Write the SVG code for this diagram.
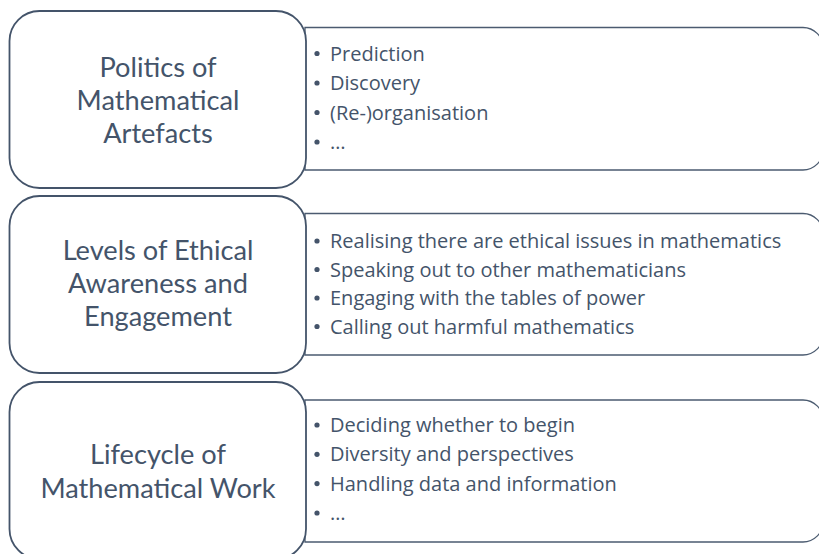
<svg xmlns="http://www.w3.org/2000/svg" width="819" height="554" viewBox="0 0 819 554">
<style>
.bg{fill:#ffffff}
.detail{fill:#ffffff;stroke:#4b5b70;stroke-width:1.3}
.head{fill:#ffffff;stroke:#44546a;stroke-width:1.8}
.title{font-family:Lato,"Open Sans","Liberation Sans",sans-serif;font-size:27.2px;fill:#44546a;text-anchor:middle}
.item{font-family:"Open Sans","Liberation Sans",sans-serif;font-size:20px;fill:#44546a}
.dot{fill:#44546a}
</style>
<rect class="bg" x="0" y="0" width="819" height="554"/>
<g id="connectors"></g>

<g id="details-1">
<path class="detail" d="M305,27.5 H803 A20,20 0 0 1 823,47.5 V150 A20,20 0 0 1 803,170 H305 Z"/>
<circle class="dot" cx="317" cy="53.5" r="2.6"/><text class="item" x="330" y="60.5">Prediction</text>
<circle class="dot" cx="317" cy="83" r="2.6"/><text class="item" x="330" y="90">Discovery</text>
<circle class="dot" cx="317" cy="112.5" r="2.6"/><text class="item" x="330" y="119.5">(Re-)organisation</text>
<circle class="dot" cx="317" cy="142" r="2.6"/><text class="item" x="330" y="149">…</text>
</g>

<g id="details-2">
<path class="detail" d="M305,213.5 H803 A20,20 0 0 1 823,233.5 V335 A20,20 0 0 1 803,355 H305 Z"/>
<circle class="dot" cx="317" cy="241" r="2.6"/><text class="item" x="330" y="248">Realising there are ethical issues in mathematics</text>
<circle class="dot" cx="317" cy="269.5" r="2.6"/><text class="item" x="330" y="276.5">Speaking out to other mathematicians</text>
<circle class="dot" cx="317" cy="298" r="2.6"/><text class="item" x="330" y="305">Engaging with the tables of power</text>
<circle class="dot" cx="317" cy="326.5" r="2.6"/><text class="item" x="330" y="333.5">Calling out harmful mathematics</text>
</g>

<g id="details-3">
<path class="detail" d="M305,400 H803 A20,20 0 0 1 823,420 V522 A20,20 0 0 1 803,542 H305 Z"/>
<circle class="dot" cx="317" cy="425" r="2.6"/><text class="item" x="330" y="432">Deciding whether to begin</text>
<circle class="dot" cx="317" cy="454.3" r="2.6"/><text class="item" x="330" y="461.3">Diversity and perspectives</text>
<circle class="dot" cx="317" cy="483.6" r="2.6"/><text class="item" x="330" y="490.6">Handling data and information</text>
<circle class="dot" cx="317" cy="513" r="2.6"/><text class="item" x="330" y="520">…</text>
</g>

<g id="politics">
<rect class="head" x="9.5" y="11" width="296.5" height="177" rx="30" ry="30"/>
<text class="title" x="158" y="77">Politics of</text>
<text class="title" x="158" y="110">Mathematical</text>
<text class="title" x="158" y="143">Artefacts</text>
</g>

<g id="levels">
<rect class="head" x="9.5" y="196" width="296.5" height="177" rx="30" ry="30"/>
<text class="title" x="158" y="260">Levels of Ethical</text>
<text class="title" x="158" y="293">Awareness and</text>
<text class="title" x="158" y="326">Engagement</text>
</g>

<g id="lifecycle">
<rect class="head" x="9.5" y="382" width="296.5" height="177" rx="30" ry="30"/>
<text class="title" x="158" y="464">Lifecycle of</text>
<text class="title" x="158" y="497.5">Mathematical Work</text>
</g>
</svg>
